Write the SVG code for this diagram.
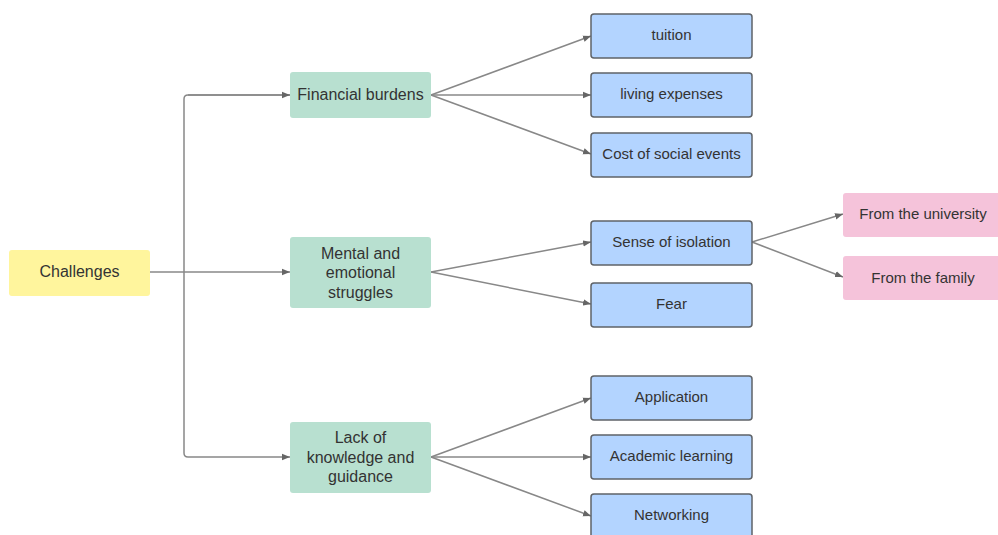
<svg xmlns="http://www.w3.org/2000/svg" width="998" height="535" viewBox="0 0 998 535">
<style>
text{font-family:"Liberation Sans",Arial,sans-serif;font-size:15px;fill:#333;text-anchor:middle;dominant-baseline:central}
text.l{font-size:16px}
.y{fill:#fff59d}
.g{fill:#b8e0d0}
.b{fill:#b3d4ff;stroke:#5f6368;stroke-width:1.5}
.p{fill:#f5c3da}
.c{fill:none;stroke:#888;stroke-width:1.5}
</style>
<defs>
<marker id="ah" viewBox="0 0 10 10" refX="10" refY="5" markerWidth="8" markerHeight="8" markerUnits="userSpaceOnUse" orient="auto">
<path d="M0,1 L10,5 L0,9 Z" fill="#666"/>
</marker>
</defs>
<rect width="998" height="535" fill="#fff"/>
<g id="connectors">
<path class="c" d="M150,272 L290,272" marker-end="url(#ah)"/>
<path class="c" d="M290,95 L188,95 Q184,95 184,99 L184,453 Q184,457 188,457 L290,457" marker-end="url(#ah)"/>
<path class="c" d="M188,95 L290,95" marker-end="url(#ah)"/>
<path class="c" d="M431,95 L591,36" marker-end="url(#ah)"/>
<path class="c" d="M431,95 L591,95" marker-end="url(#ah)"/>
<path class="c" d="M431,95 L591,154" marker-end="url(#ah)"/>
<path class="c" d="M431,272 L591,242" marker-end="url(#ah)"/>
<path class="c" d="M431,272 L591,304" marker-end="url(#ah)"/>
<path class="c" d="M752,242 L843,214" marker-end="url(#ah)"/>
<path class="c" d="M752,242 L843,277" marker-end="url(#ah)"/>
<path class="c" d="M431,457 L591,398" marker-end="url(#ah)"/>
<path class="c" d="M431,457 L591,457" marker-end="url(#ah)"/>
<path class="c" d="M431,457 L591,516" marker-end="url(#ah)"/>
</g>
<g id="challenges"><rect class="y" x="9" y="250" width="141" height="46" rx="3"/><text class="l" x="79.5" y="271">Challenges</text></g>
<g id="financial"><rect class="g" x="290" y="72" width="141" height="46" rx="3"/><text class="l" x="360.5" y="94">Financial burdens</text></g>
<g id="mental"><rect class="g" x="290" y="237" width="141" height="71" rx="3"/><text class="l" x="360.5" y="253">Mental and</text><text class="l" x="360.5" y="272">emotional</text><text class="l" x="360.5" y="292">struggles</text></g>
<g id="lack"><rect class="g" x="290" y="422" width="141" height="71" rx="3"/><text class="l" x="360.5" y="437">Lack of</text><text class="l" x="360.5" y="457">knowledge and</text><text class="l" x="360.5" y="476">guidance</text></g>
<g id="tuition"><rect class="b" x="591" y="14" width="161" height="44" rx="3"/><text x="671.5" y="34">tuition</text></g>
<g id="living"><rect class="b" x="591" y="73" width="161" height="44" rx="3"/><text x="671.5" y="93">living expenses</text></g>
<g id="cost"><rect class="b" x="591" y="133" width="161" height="44" rx="3"/><text x="671.5" y="153">Cost of social events</text></g>
<g id="isolation"><rect class="b" x="591" y="221" width="161" height="44" rx="3"/><text x="671.5" y="241">Sense of isolation</text></g>
<g id="fear"><rect class="b" x="591" y="283" width="161" height="44" rx="3"/><text x="671.5" y="303">Fear</text></g>
<g id="university"><rect class="p" x="843" y="193" width="160" height="44" rx="3"/><text x="923" y="213">From the university</text></g>
<g id="family"><rect class="p" x="843" y="256" width="160" height="44" rx="3"/><text x="923" y="277">From the family</text></g>
<g id="application"><rect class="b" x="591" y="376" width="161" height="44" rx="3"/><text x="671.5" y="396">Application</text></g>
<g id="academic"><rect class="b" x="591" y="435" width="161" height="44" rx="3"/><text x="671.5" y="455">Academic learning</text></g>
<g id="networking"><rect class="b" x="591" y="494" width="161" height="44" rx="3"/><text x="671.5" y="514">Networking</text></g>
</svg>
